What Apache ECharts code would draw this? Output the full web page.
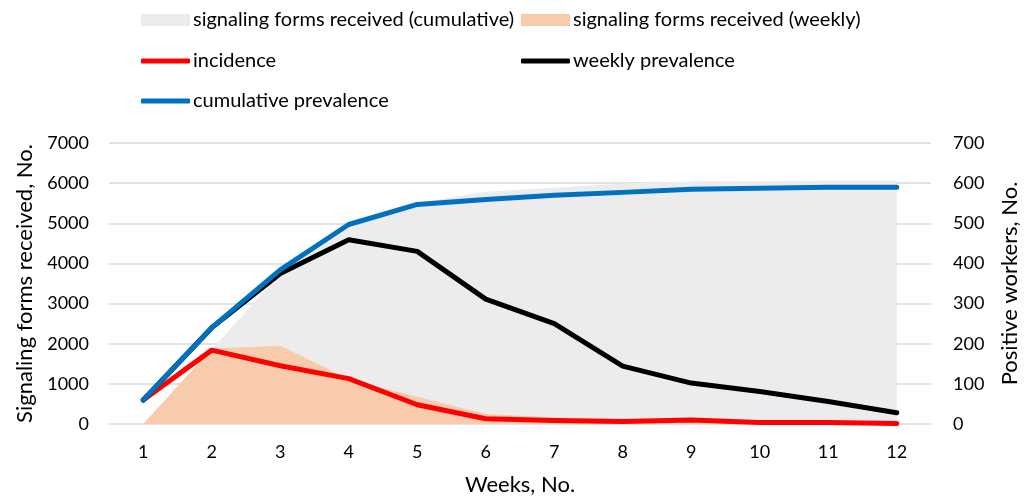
<!DOCTYPE html>
<html><head><meta charset="utf-8">
<script src="https://cdn.jsdelivr.net/npm/echarts@6/dist/echarts.min.js"></script>
<style>html,body{margin:0;padding:0;background:#fff}#c{width:1029px;height:501px}</style>
</head><body><div id="c"></div>
<script>
const weeks = ['1','2','3','4','5','6','7','8','9','10','11','12'];
const formsCumulative = [0, 1850, 3750, 4870, 5500, 5785, 5885, 5990, 6040, 6050, 6060, 6060];
const formsWeekly = [0, 1880, 1950, 1120, 680, 250, 160, 110, 80, 60, 40, 20];
const incidence = [60, 184, 145, 113, 48, 13, 9, 6, 10, 4, 4, 1];
const weeklyPrev = [60, 240, 375, 459, 430, 311, 250, 144, 102, 81, 56, 28];
const cumulativePrev = [60, 240, 384, 497, 547, 559, 570, 577, 585, 587, 590, 590];
const leftTicks = [0, 1000, 7000];
const rightTicks = [0, 100, 700];

const FONT = 'Lato';
const tick = {fontFamily: FONT, fontSize: 18, color: '#000'};
const title = {fontFamily: FONT, fontSize: 22, color: '#000'};
const legTxt = {fontFamily: FONT, fontSize: 20, color: '#000'};
const chart = echarts.init(document.getElementById('c'), null, {renderer: 'canvas'});

function legend(name, left, top, icon) {
  return {
    data: [{name: name, icon: icon}],
    left: left, top: top, itemWidth: 49, itemHeight: icon === 'rect' ? 12 : 5,
    itemGap: 0, padding: 0, textStyle: Object.assign({}, legTxt, {padding: [0, 0, 0, -2]}),
    selectedMode: false
  };
}

const option = {
  animation: false,
  backgroundColor: '#fff',
  legend: [
    legend('signaling forms received (cumulative)', 141, 10, 'rect'),
    legend('signaling forms received (weekly)', 521, 10, 'rect'),
    legend('incidence', 141, 51, 'roundRect'),
    legend('weekly prevalence', 521, 51, 'roundRect'),
    legend('cumulative prevalence', 141, 91, 'roundRect')
  ],
  grid: {left: 109, right: 97, top: 143, bottom: 74},
  xAxis: {
    type: 'category', data: weeks, boundaryGap: true,
    axisLine: {show: false}, axisTick: {show: false},
    axisLabel: Object.assign({}, tick, {margin: 19}),
    name: 'Weeks, No.', nameLocation: 'middle', nameGap: 50,
    nameTextStyle: title
  },
  yAxis: [
    {
      type: 'value', min: leftTicks[0], max: leftTicks[2], interval: leftTicks[1],
      axisLine: {show: false}, axisTick: {show: false},
      axisLabel: Object.assign({}, tick, {margin: 20, formatter: v => String(v)}),
      splitLine: {lineStyle: {color: '#d9d9d9', width: 1.5}},
      name: 'Signaling forms received, No.', nameLocation: 'middle', nameGap: 72,
      nameTextStyle: title
    },
    {
      type: 'value', min: rightTicks[0], max: rightTicks[2], interval: rightTicks[1],
      position: 'right',
      axisLine: {show: false}, axisTick: {show: false},
      axisLabel: Object.assign({}, tick, {margin: 22, formatter: v => String(v)}),
      splitLine: {show: false},
      name: 'Positive workers, No.', nameLocation: 'middle', nameGap: 68,
      nameTextStyle: title
    }
  ],
  series: [
    {name: 'signaling forms received (cumulative)', type: 'line', data: formsCumulative, yAxisIndex: 0,
     symbol: 'none', lineStyle: {width: 0}, itemStyle: {color: '#ececec'},
     areaStyle: {color: '#ececec', opacity: 1}, z: 1},
    {name: 'signaling forms received (weekly)', type: 'line', data: formsWeekly, yAxisIndex: 0,
     symbol: 'none', lineStyle: {width: 0}, itemStyle: {color: '#f8cbad'},
     areaStyle: {color: '#f8cbad', opacity: 1}, z: 2},
    {name: 'incidence', type: 'line', data: incidence, yAxisIndex: 1, symbol: 'none',
     lineStyle: {width: 5, color: '#ff0000', cap: 'round', join: 'round'}, itemStyle: {color: '#ff0000'}, z: 3},
    {name: 'weekly prevalence', type: 'line', data: weeklyPrev, yAxisIndex: 1, symbol: 'none',
     lineStyle: {width: 5, color: '#000000', cap: 'round', join: 'round'}, itemStyle: {color: '#000000'}, z: 4},
    {name: 'cumulative prevalence', type: 'line', data: cumulativePrev, yAxisIndex: 1, symbol: 'none',
     lineStyle: {width: 5, color: '#0070c0', cap: 'round', join: 'round'}, itemStyle: {color: '#0070c0'}, z: 5}
  ]
};
chart.setOption(option);
</script></body></html>
